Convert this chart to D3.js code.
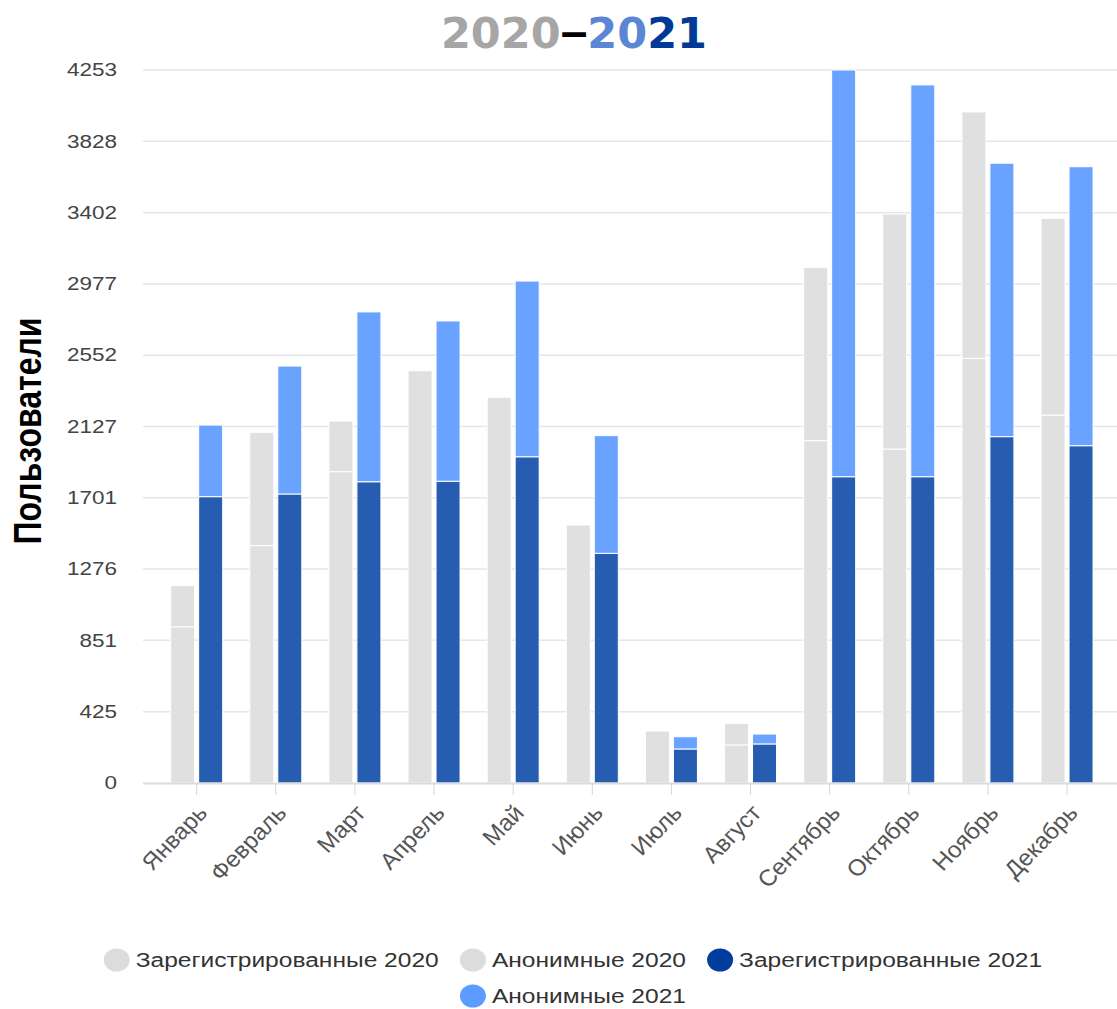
<!DOCTYPE html>
<html>
<head>
<meta charset="utf-8">
<script src="https://cdn.jsdelivr.net/npm/d3@7/dist/d3.min.js"></script>
<style>
  html, body { margin: 0; padding: 0; background: #fff; }
  svg { display: block; }
</style>
</head>
<body>
<svg id="chart" width="1117" height="1009"></svg>
<script>
// ---- data ----
const months = ["Январь","Февраль","Март","Апрель","Май","Июнь","Июль","Август","Сентябрь","Октябрь","Ноябрь","Декабрь"];
const registered2020 = [932, 1416, 1857, 2459, 2301, 1539, 310, 227, 2042, 1992, 2533, 2195];
const anonymous2020  = [245, 676, 302, 0, 0, 0, 0, 129, 1034, 1402, 1470, 1173];
const registered2021 = [1708, 1724, 1797, 1800, 1946, 1370, 203, 233, 1827, 1827, 2066, 2012];
const anonymous2021  = [427, 763, 1013, 956, 1048, 702, 73, 59, 2426, 2337, 1631, 1664];
const yTickLabels = ["0","425","851","1276","1701","2127","2552","2977","3402","3828","4253"];
const seriesNames = ["Зарегистрированные 2020","Анонимные 2020","Зарегистрированные 2021","Анонимные 2021"];
const yAxisTitle = "Пользователи";
const titleParts = ["2020","–","20","21"];

// ---- styles ----
const colors = {
  reg2020: "#e0e0e0", anon2020: "#e0e0e0",
  reg2021: "#265db0", anon2021: "#69a2ff"
};
const legendColors = ["#dcdcdc", "#dcdcdc", "#003d9f", "#5c9bff"];
const titleColors = ["#a6a6a6", "#000000", "#5b86d4", "#003a96"];

const svg = d3.select("#chart");
const plotLeft = 143, plotRight = 1117, plotTop = 70, plotBottom = 783;
const yMax = +yTickLabels[yTickLabels.length - 1];

const y = d3.scaleLinear().domain([0, yMax]).range([plotBottom, plotTop]);
const x0 = d3.scaleBand().domain(months).range([157.1, 1106.6]).paddingInner(0).paddingOuter(0);
const x1 = d3.scaleBand().domain(["2020","2021"]).range([0, x0.bandwidth()]).paddingInner(0.143).paddingOuter(0.484);

// gridlines
svg.append("g").selectAll("line")
  .data(yTickLabels.slice(1))
  .join("line")
  .attr("x1", plotLeft).attr("x2", plotRight)
  .attr("y1", d => y(+d)).attr("y2", d => y(+d))
  .attr("stroke", "#e6e6e6").attr("stroke-width", 1.5);

// y tick labels
svg.append("g").selectAll("text")
  .data(yTickLabels)
  .join("text")
  .attr("transform", d => `translate(117,${y(+d)}) scale(1.25,1)`)
  .attr("text-anchor", "end")
  .attr("dy", "0.35em")
  .attr("font-family", "Liberation Sans, Arial, sans-serif")
  .attr("font-size", 18)
  .attr("fill", "#444")
  .text(d => d);

// y axis title
svg.append("text")
  .attr("transform", `translate(41,431) rotate(-90) scale(1,1.2)`)
  .attr("text-anchor", "middle")
  .attr("font-family", "Liberation Sans, Arial, sans-serif")
  .attr("font-weight", "bold")
  .attr("font-size", 32)
  .attr("fill", "#000")
  .text(yAxisTitle);

// stacked data
const stacks = months.map((m, i) => ([
  { m, year: "2020", y0: 0, y1: registered2020[i], c: colors.reg2020 },
  { m, year: "2020", y0: registered2020[i], y1: registered2020[i] + anonymous2020[i], c: colors.anon2020 },
  { m, year: "2021", y0: 0, y1: registered2021[i], c: colors.reg2021 },
  { m, year: "2021", y0: registered2021[i], y1: registered2021[i] + anonymous2021[i], c: colors.anon2021 }
])).flat().filter(d => d.y1 > d.y0);

svg.append("g").selectAll("rect")
  .data(stacks)
  .join("rect")
  .attr("x", d => x0(d.m) + x1(d.year))
  .attr("width", x1.bandwidth())
  .attr("y", d => y(d.y1))
  .attr("height", d => y(d.y0) - y(d.y1))
  .attr("fill", d => d.c)
  .attr("stroke", "#fff")
  .attr("stroke-width", 1);

// x axis baseline
svg.append("line")
  .attr("x1", plotLeft).attr("x2", plotRight)
  .attr("y1", plotBottom + 0.5).attr("y2", plotBottom + 0.5)
  .attr("stroke", "#dcdcdc").attr("stroke-width", 2);

// x ticks
svg.append("g").selectAll("line")
  .data(months)
  .join("line")
  .attr("x1", d => x0(d) + x0.bandwidth() / 2)
  .attr("x2", d => x0(d) + x0.bandwidth() / 2)
  .attr("y1", plotBottom + 1).attr("y2", plotBottom + 12)
  .attr("stroke", "#d6d6d6").attr("stroke-width", 1);

// x labels
svg.append("g").selectAll("text")
  .data(months)
  .join("text")
  .attr("transform", d => `translate(${x0(d) + x0.bandwidth() / 2 + 12},${814}) scale(1.05,1) rotate(-47)`)
  .attr("text-anchor", "end")
  .attr("font-family", "Liberation Sans, Arial, sans-serif")
  .attr("font-size", 23)
  .attr("fill", "#555")
  .text(d => d);

// title
const title = svg.append("text")
  .attr("x", 574).attr("y", 48)
  .attr("text-anchor", "middle")
  .attr("font-family", "DejaVu Sans, sans-serif")
  .attr("font-weight", "bold")
  .attr("font-size", 43);
titleParts.forEach((t, i) => {
  const ts = title.append("tspan").attr("fill", titleColors[i]).text(t);
  if (t === "–") ts.attr("font-family", "Liberation Sans, Arial, sans-serif").attr("font-size", 48);
});

// legend
const legendFont = 21, legendSx = 1.17;
const legend = svg.append("g");
const rows = [[0, 1, 2], [3]];
const rowY = [960, 996];
const measure = svg.append("text").attr("font-family", "Liberation Sans, Arial, sans-serif").attr("font-size", legendFont);
const widths = seriesNames.map(n => { measure.text(n); return measure.node().getComputedTextLength() * legendSx; });
measure.remove();
rows.forEach((row, ri) => {
  const itemW = row.map(i => 26 + 6 + widths[i]);
  const total = d3.sum(itemW) + 21 * (row.length - 1);
  let cx = 573 - total / 2;
  row.forEach((i, k) => {
    legend.append("ellipse")
      .attr("cx", cx + 13).attr("cy", rowY[ri])
      .attr("rx", 13).attr("ry", 11.5)
      .attr("fill", legendColors[i]);
    legend.append("text")
      .attr("transform", `translate(${cx + 32},${rowY[ri]}) scale(${legendSx},1)`)
      .attr("dy", "0.35em")
      .attr("font-family", "Liberation Sans, Arial, sans-serif")
      .attr("font-size", legendFont)
      .attr("fill", "#333")
      .text(seriesNames[i]);
    cx += itemW[k] + 21;
  });
});
</script>
</body>
</html>
